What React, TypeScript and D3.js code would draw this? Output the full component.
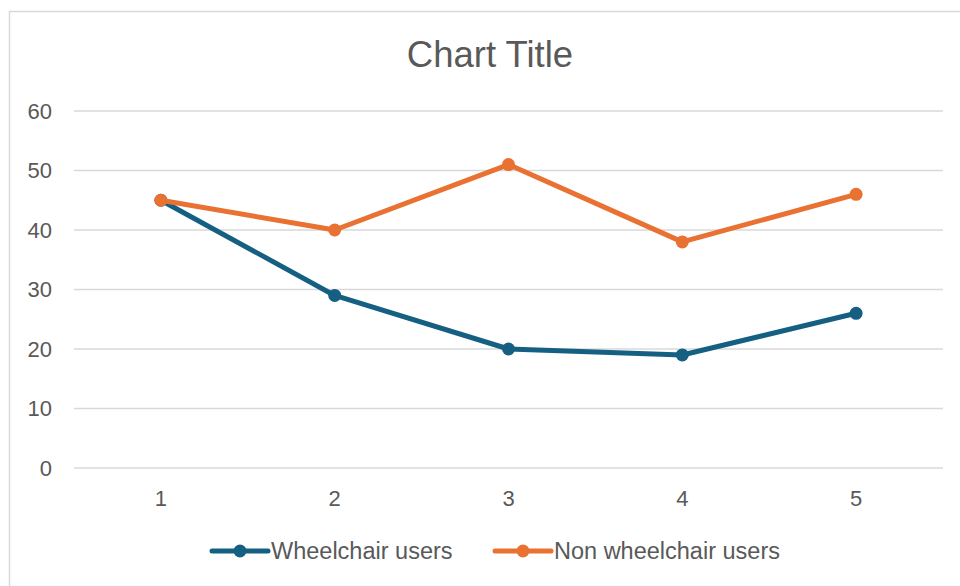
import React, { useRef, useEffect } from "react";
import * as d3 from "d3";

const categories = ["1", "2", "3", "4", "5"];
const wheelchair = [45, 29, 20, 19, 26];
const nonWheelchair = [45, 40, 51, 38, 46];
const yTicks = [0, 10, 20, 30, 40, 50, 60];

const series = [
  { name: "Wheelchair users", values: wheelchair, color: "#156082" },
  { name: "Non wheelchair users", values: nonWheelchair, color: "#E97132" },
];

const App: React.FC = () => {
  const svgRef = useRef<SVGSVGElement | null>(null);

  useEffect(() => {
    if (!svgRef.current) return;
    const svg = d3.select(svgRef.current);
    svg.selectAll("*").remove();

    const width = 960;
    const height = 586;
    const font = "'Liberation Sans', Arial, sans-serif";

    // chart area border (cut off on right/bottom like the screenshot)
    svg
      .append("rect")
      .attr("x", 9.5)
      .attr("y", 11.5)
      .attr("width", width + 20)
      .attr("height", height + 20)
      .attr("fill", "#fff")
      .attr("stroke", "#d9d9d9")
      .attr("stroke-width", 1.5);

    const left = 74;
    const right = 943;
    const top = 111;
    const bottom = 468;

    const x = d3.scaleBand().domain(categories).range([left, right]);
    const y = d3.scaleLinear().domain([0, 60]).range([bottom, top]);
    const cx = (c: string) => (x(c) || 0) + x.bandwidth() / 2;

    svg
      .append("text")
      .attr("x", 490)
      .attr("y", 67)
      .attr("text-anchor", "middle")
      .attr("font-family", font)
      .attr("font-size", 36.5)
      .attr("fill", "#595959")
      .text("Chart Title");

    // gridlines
    svg
      .append("g")
      .selectAll("line")
      .data(yTicks)
      .join("line")
      .attr("x1", left)
      .attr("x2", right)
      .attr("y1", (d) => y(d))
      .attr("y2", (d) => y(d))
      .attr("stroke", "#d9d9d9")
      .attr("stroke-width", 1.5);

    svg
      .append("g")
      .selectAll("text")
      .data(yTicks)
      .join("text")
      .attr("x", 52)
      .attr("y", (d) => y(d))
      .attr("dy", "0.35em")
      .attr("text-anchor", "end")
      .attr("font-family", font)
      .attr("font-size", 22)
      .attr("fill", "#595959")
      .text((d) => d);

    svg
      .append("g")
      .selectAll("text")
      .data(categories)
      .join("text")
      .attr("x", (d) => cx(d))
      .attr("y", 506)
      .attr("text-anchor", "middle")
      .attr("font-family", font)
      .attr("font-size", 22)
      .attr("fill", "#595959")
      .text((d) => d);

    const line = d3
      .line<number>()
      .x((_, i) => cx(categories[i]))
      .y((d) => y(d));

    series.forEach((s) => {
      const g = svg.append("g");
      g.append("path")
        .datum(s.values)
        .attr("d", line)
        .attr("fill", "none")
        .attr("stroke", s.color)
        .attr("stroke-width", 5)
        .attr("stroke-linejoin", "round")
        .attr("stroke-linecap", "round");
      g.selectAll("circle")
        .data(s.values)
        .join("circle")
        .attr("cx", (_, i) => cx(categories[i]))
        .attr("cy", (d) => y(d))
        .attr("r", 6.5)
        .attr("fill", s.color);
    });

    // legend
    const legendX = [212, 495];
    series.forEach((s, i) => {
      const lg = svg.append("g").attr("transform", `translate(${legendX[i]},551)`);
      lg.append("line")
        .attr("x1", 0)
        .attr("x2", 56)
        .attr("stroke", s.color)
        .attr("stroke-width", 5)
        .attr("stroke-linecap", "round");
      lg.append("circle").attr("cx", 28).attr("r", 6.5).attr("fill", s.color);
      lg.append("text")
        .attr("x", 59)
        .attr("dy", "0.35em")
        .attr("font-family", font)
        .attr("font-size", 23.5)
        .attr("fill", "#595959")
        .text(s.name);
    });
  }, []);

  return (
    <svg
      ref={svgRef}
      width={960}
      height={586}
      style={{ position: "absolute", left: 0, top: 0, display: "block" }}
    />
  );
};

export default App;
